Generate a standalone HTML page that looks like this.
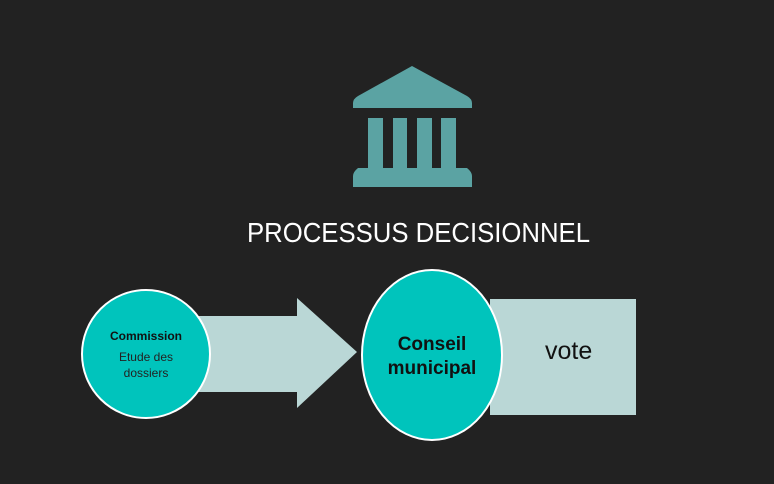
<!DOCTYPE html>
<html><head><meta charset="utf-8"><style>
html,body{margin:0;padding:0;background:#222222;width:774px;height:484px;overflow:hidden}
</style></head><body>
<svg width="774" height="484" viewBox="0 0 774 484" xmlns="http://www.w3.org/2000/svg">
<rect width="774" height="484" fill="#222222"/>
<g fill="#5ba3a3">
<path d="M412 66 L467 96 Q472 99 472 103 L472 108 L353 108 L353 103 Q353 99 358 96 Z"/>
<rect x="368" y="118" width="15" height="52"/>
<rect x="393" y="118" width="14" height="52"/>
<rect x="417" y="118" width="15" height="52"/>
<rect x="441" y="118" width="15" height="52"/>
<path d="M358 168 L467 168 Q472 172 472 176 L472 187 L353 187 L353 176 Q353 172 358 168 Z"/>
</g>
<text x="247" y="242" font-family="Liberation Sans, sans-serif" font-size="28" fill="#ffffff" textLength="343" lengthAdjust="spacingAndGlyphs">PROCESSUS DECISIONNEL</text>
<path d="M185 316 L297 316 L297 298 L357 352 L297 408 L297 392 L185 392 Z" fill="#bad7d6"/>
<circle cx="146" cy="354" r="64" fill="#00c4bc" stroke="#ffffff" stroke-width="2"/>
<text x="146" y="340" text-anchor="middle" font-family="Liberation Sans, sans-serif" font-size="12" font-weight="bold" fill="#111">Commission</text>
<text x="146" y="361" text-anchor="middle" font-family="Liberation Sans, sans-serif" font-size="12" fill="#222">Etude des</text>
<text x="146" y="377" text-anchor="middle" font-family="Liberation Sans, sans-serif" font-size="12" fill="#222">dossiers</text>
<rect x="490" y="299" width="146" height="116" fill="#bad7d6"/>
<ellipse cx="432" cy="355" rx="70" ry="85" fill="#00c4bc" stroke="#ffffff" stroke-width="2"/>
<text x="432" y="350" text-anchor="middle" font-family="Liberation Sans, sans-serif" font-size="19" font-weight="bold" fill="#111">Conseil</text>
<text x="432" y="374" text-anchor="middle" font-family="Liberation Sans, sans-serif" font-size="19" font-weight="bold" fill="#111">municipal</text>
<text x="545" y="359" font-family="Liberation Sans, sans-serif" font-size="25" fill="#111">vote</text>
</svg>
</body></html>
